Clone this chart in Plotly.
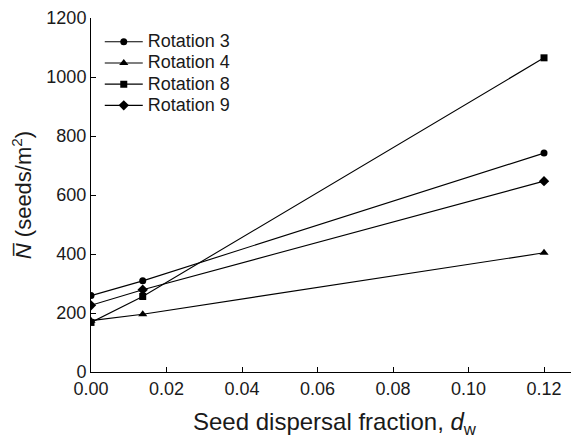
import plotly.graph_objects as go

dispersal = [0.0, 0.0137, 0.12]
series_names = ["Rotation 3", "Rotation 4", "Rotation 8", "Rotation 9"]
rot3 = [259, 309, 742]
rot4 = [174, 196, 404]
rot8 = [168, 256, 1065]
rot9 = [226, 279, 647]
y_ticks = [0, 200, 400, 600, 800, 1000, 1200]
x_ticks = [0.0, 0.02, 0.04, 0.06, 0.08, 0.10, 0.12]

symbols = ["circle", "triangle-up", "square", "diamond"]
sizes = [7, 8, 7, 8]
values = [rot3, rot4, rot8, rot9]

fig = go.Figure()
for name, vals, sym, sz in zip(series_names, values, symbols, sizes):
    fig.add_trace(go.Scatter(
        x=dispersal, y=vals, mode="lines+markers",
        name="<span style='font-size:18px'>" + name + "</span>",
        line=dict(color="black", width=1.1),
        marker=dict(symbol=sym, size=sz, color="black"),
    ))

font = "Liberation Sans, Arial, sans-serif"
# page body has an 8px margin, so the figure is sized/offset to compensate
fig.update_layout(
    width=571, height=431,
    margin=dict(l=83, r=1, t=10, b=67),
    plot_bgcolor="white", paper_bgcolor="white",
    font=dict(family=font, size=18, color="#1a1a1a"),
    showlegend=True,
    legend=dict(x=0.018, y=0.977, xanchor="left", yanchor="top",
                font=dict(size=14), bgcolor="rgba(0,0,0,0)",
                tracegroupgap=0, itemwidth=38),
    xaxis=dict(range=[0, 0.129], tickvals=x_ticks, tickformat=".2f",
               ticks="inside", ticklen=5, tickcolor="black",
               showline=True, linecolor="black", linewidth=1,
               showgrid=False, zeroline=False, automargin=False,
               title=dict(text="Seed dispersal fraction, <i>d</i><sub>w</sub>",
                          font=dict(size=24), standoff=30)),
    yaxis=dict(range=[0, 1200], tickvals=y_ticks,
               ticks="inside", ticklen=5, tickcolor="black",
               showline=True, linecolor="black", linewidth=1,
               showgrid=False, zeroline=False, automargin=False,
               title=dict(text="<i>N\u0305</i> (seeds/m<sup>2</sup>)",
                          font=dict(size=22), standoff=12)),
)
fig.write_html("out.html")
